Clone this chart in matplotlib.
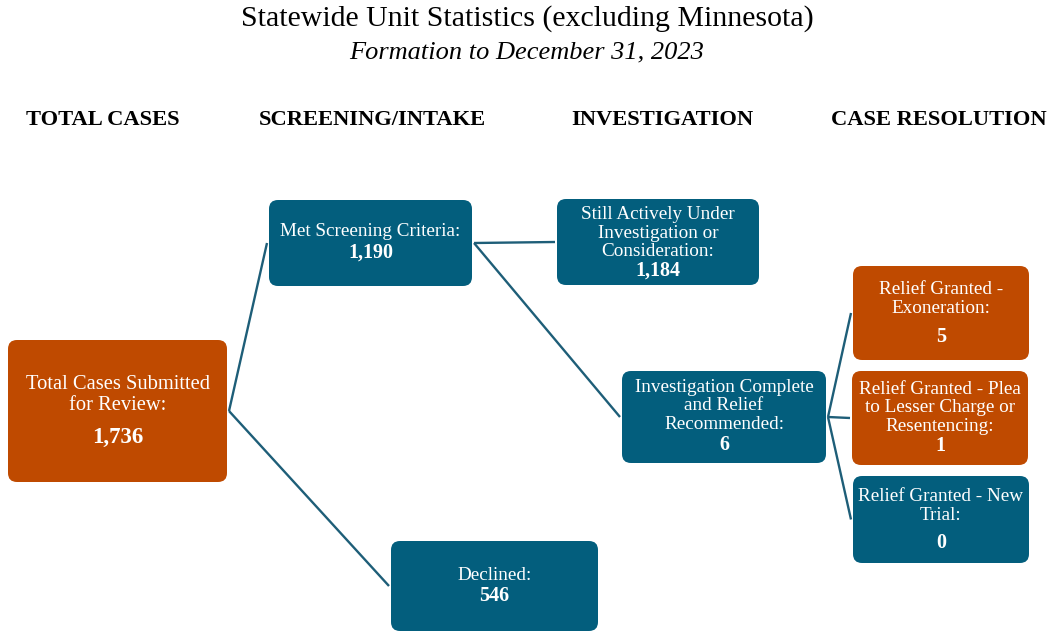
import matplotlib
matplotlib.use("Agg")
import matplotlib.pyplot as plt
from matplotlib.patches import FancyBboxPatch

# ---- data ----
title = "Statewide Unit Statistics (excluding Minnesota)"
subtitle = "Formation to December 31, 2023"
stage_headers = ["TOTAL CASES", "SCREENING/INTAKE", "INVESTIGATION", "CASE RESOLUTION"]
node_labels = [
    "Total Cases Submitted\nfor Review:",
    "Met Screening Criteria:",
    "Declined:",
    "Still Actively Under\nInvestigation or\nConsideration:",
    "Investigation Complete\nand Relief\nRecommended:",
    "Relief Granted -\nExoneration:",
    "Relief Granted - Plea\nto Lesser Charge or\nResentencing:",
    "Relief Granted - New\nTrial:",
]
node_values = [1736, 1190, 546, 1184, 6, 5, 1, 0]
edges = [(0, 1), (0, 2), (1, 3), (1, 4), (4, 5), (4, 6), (4, 7)]

# ---- layout / style ----
ORANGE = "#BF4A00"
BLUE = "#035E7D"
LINE = "#1E5E78"
node_colors = [ORANGE, BLUE, BLUE, BLUE, BLUE, ORANGE, ORANGE, BLUE]
# boxes: (x0, y0, x1, y1) in pixel coordinates (y down)
boxes = [
    (8, 340, 227, 482),
    (269, 200, 472, 286),
    (391, 541, 598, 631),
    (557, 199, 759, 285),
    (622, 371, 826, 463),
    (853, 266, 1029, 360),
    (852, 371, 1028, 465),
    (853, 476, 1029, 563),
]
label_y = [395, 232, 575, 233, 406, 299, 408, 506]
value_y = [437, 253, 596, 271, 445, 337, 446, 543]
label_fs = [14.8, 13.8, 13.8, 13.8, 13.8, 13.8, 13.8, 13.8]
value_fs = [16.5, 14.5, 14.5, 14.5, 14.5, 14.5, 14.5, 14.5]

W, H = 1054, 631
fig = plt.figure(figsize=(W / 100, H / 100), dpi=100)
ax = fig.add_axes([0, 0, 1, 1])
ax.set_xlim(0, W)
ax.set_ylim(H, 0)
ax.axis("off")

serif = ["Liberation Serif", "DejaVu Serif"]

ax.text(W / 2, 19, title, ha="center", va="center", fontsize=21.5, family=serif)
ax.text(W / 2, 52, subtitle, ha="center", va="center", fontsize=19, style="italic", family=serif)
header_x = [103, 372, 662, 939]
for hx, h in zip(header_x, stage_headers):
    ax.text(hx, 120, h, ha="center", va="center", fontsize=16.2, fontweight="bold", family=serif)

def right_mid(b):
    return (b[2], (b[1] + b[3]) / 2)

def left_mid(b):
    return (b[0], (b[1] + b[3]) / 2)

for a, b in edges:
    p0 = right_mid(boxes[a])
    p1 = left_mid(boxes[b])
    ax.plot([p0[0] + 2, p1[0] - 2], [p0[1], p1[1]], color=LINE, lw=1.7, zorder=1,
            solid_capstyle="butt")

for i, (b, lab, val) in enumerate(zip(boxes, node_labels, node_values)):
    x0, y0, x1, y1 = b
    r = 9
    patch = FancyBboxPatch((x0 + r, y0 + r), (x1 - x0) - 2 * r, (y1 - y0) - 2 * r,
                           boxstyle=f"round,pad={r},rounding_size={r}",
                           facecolor=node_colors[i], edgecolor="none", zorder=2)
    ax.add_patch(patch)
    cx = (x0 + x1) / 2
    ax.text(cx, label_y[i], lab, ha="center", va="center", color="white",
            fontsize=label_fs[i], family=serif, linespacing=1.15, zorder=3)
    ax.text(cx, value_y[i], f"{val:,}", ha="center", va="center", color="white",
            fontsize=value_fs[i], fontweight="bold", family=serif, zorder=3)

fig.savefig("out.png", dpi=100, facecolor="white")
